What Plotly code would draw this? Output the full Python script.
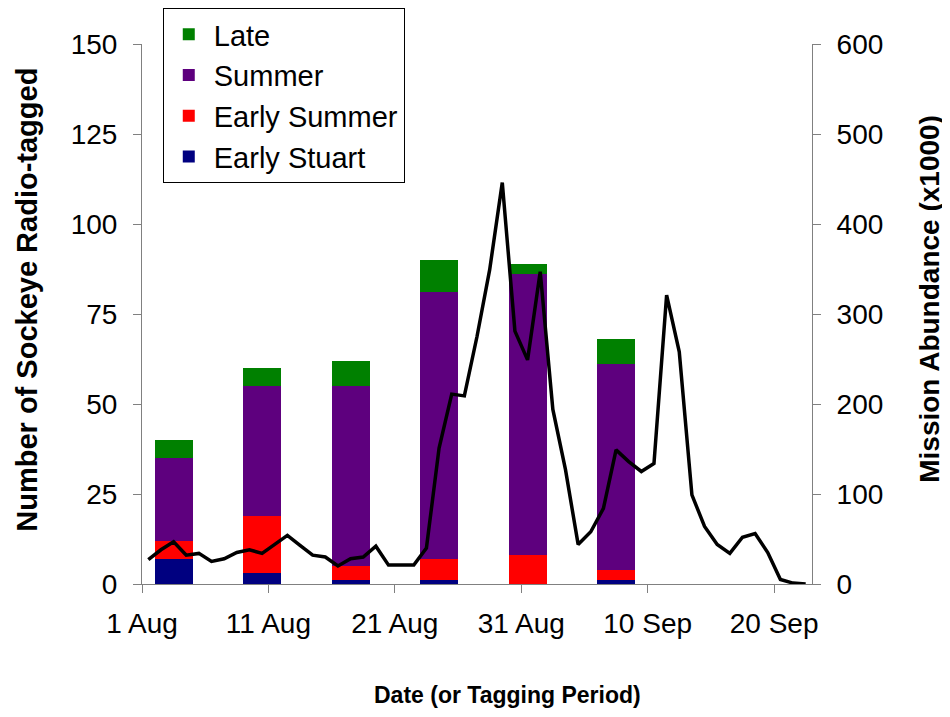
import pandas as pd
import plotly.graph_objs as go

# tagging periods (bar centres) and number of radio-tagged sockeye per stock group
period_mid = ['2003-08-03 12:00', '2003-08-10 12:00', '2003-08-17 12:00',
              '2003-08-24 12:00', '2003-08-31 12:00', '2003-09-07 12:00']
early_stuart = [7, 3, 1, 1, 0, 1]
early_summer = [5, 16, 4, 6, 8, 3]
summer = [23, 36, 50, 74, 78, 57]
late = [5, 5, 7, 9, 3, 7]

# daily Mission abundance (x1000), 1 Aug - 22 Sep
abundance = [27, 38, 47, 32, 34, 25, 28, 35, 38, 34,
             44, 54, 43, 32, 30, 20, 28, 30, 42, 21,
             21, 21, 40, 151, 211, 209, 275, 349, 446, 281,
             249, 347, 194, 127, 44, 58, 84, 149, 136, 125,
             134, 321, 258, 99, 64, 44, 34, 52, 56, 35,
             5, 1, 0]
abundance_days = pd.date_range('2003-08-01 12:00', periods=len(abundance), freq='D')

tick_dates = ['2003-08-01', '2003-08-11', '2003-08-21', '2003-08-31', '2003-09-10', '2003-09-20']
tick_labels = ['1 Aug', '11 Aug', '21 Aug', '31 Aug', '10 Sep', '20 Sep']

DAY_MS = 86400000
FONT = 'Liberation Sans, Arial, sans-serif'

fig = go.Figure()

stocks = [('Early Stuart', early_stuart, '#000080'),
          ('Early Summer', early_summer, '#ff0000'),
          ('Summer', summer, '#5e007e'),
          ('Late', late, '#008000')]
for name, vals, color in stocks:
    fig.add_trace(go.Bar(x=period_mid, y=vals, name=name, width=3 * DAY_MS,
                         marker=dict(color=color, line=dict(width=0)),
                         legendgroup=name))

fig.add_trace(go.Scatter(x=abundance_days, y=abundance, mode='lines', yaxis='y2',
                         line=dict(color='black', width=3.5), showlegend=False))

axis_common = dict(showgrid=False, zeroline=False, showline=True, linecolor='#808080',
                   linewidth=1, ticks='outside', ticklen=8, tickcolor='#808080',
                   tickfont=dict(family=FONT, size=28, color='black'), automargin=False)

# axis titles sit a little off-centre in the original, so they are annotations
title_font = dict(family=FONT, color='black', weight='bold')
titles = [
    dict(text='Date (or Tagging Period)', x=0.545, y=-0.205, textangle=0,
         font=dict(size=23, **title_font)),
    dict(text='Number of Sockeye Radio-tagged', x=-0.172, y=0.526, textangle=-90,
         font=dict(size=29, **title_font)),
    dict(text='Mission Abundance (x1000)', x=1.176, y=0.528, textangle=-90,
         font=dict(size=28, **title_font)),
]
for t in titles:
    t.update(xref='paper', yref='paper', xanchor='center', yanchor='middle', showarrow=False)

fig.update_layout(
    width=950, height=717,
    margin=dict(l=134, r=146, t=36, b=141, autoexpand=False),
    paper_bgcolor='white', plot_bgcolor='white',
    barmode='stack',
    xaxis=dict(type='date', range=['2003-08-01', '2003-09-23'],
               tickvals=tick_dates, ticktext=tick_labels, ticklabelstandoff=6,
               **axis_common),
    yaxis=dict(range=[0, 150], tick0=0, dtick=25, ticklabelstandoff=10, **axis_common),
    yaxis2=dict(range=[0, 600], tick0=0, dtick=100, overlaying='y', side='right',
                ticklabelstandoff=10, **axis_common),
    annotations=titles,
    legend=dict(x=0.031, y=1.0, yref='container', xanchor='left', yanchor='top',
                traceorder='reversed', bgcolor='white', bordercolor='black', borderwidth=1,
                tracegroupgap=8, itemwidth=40,
                font=dict(family=FONT, size=29, color='black')),
    bargap=0,
)

fig.write_html('out.html')
